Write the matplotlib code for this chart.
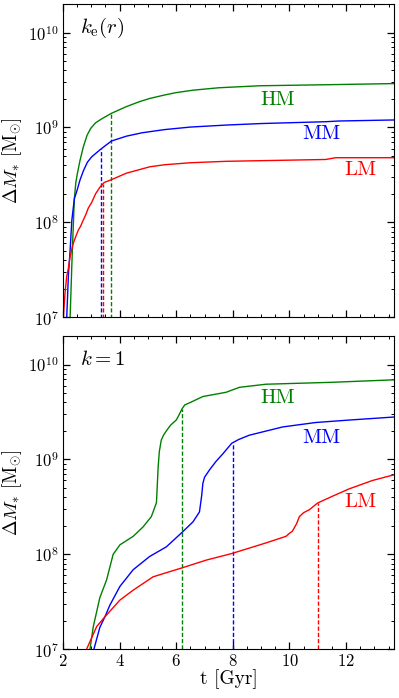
import numpy as np
import matplotlib
matplotlib.use("Agg")
import matplotlib.pyplot as plt

plt.rcParams['font.family'] = 'serif'
plt.rcParams['font.serif'] = ['cmr10']
plt.rcParams['mathtext.fontset'] = 'cm'
plt.rcParams['axes.formatter.use_mathtext'] = True
plt.rcParams['axes.unicode_minus'] = False

# ---- panel 1 : k_e(r) ----
t_hm1 = [2.22, 2.25, 2.31, 2.33, 2.36, 2.40, 2.45, 2.50, 2.60, 2.72, 2.85, 2.98, 3.15, 3.36, 3.71, 4.24,
         4.70, 5.06, 5.59, 6.00, 6.59, 7.50, 8.94, 11.28, 13.7]
m_hm1 = [6e6, 1.0e7, 3.5e7, 5.2e7, 8.9e7, 1.78e8, 2.6e8, 3.2e8, 4.5e8, 6.3e8, 8.3e8, 9.8e8, 1.12e9, 1.23e9,
         1.41e9, 1.66e9, 1.87e9, 2.02e9, 2.2e9, 2.33e9, 2.47e9, 2.62e9, 2.75e9, 2.82e9, 2.9e9]
t_mm1 = [2.11, 2.13, 2.19, 2.25, 2.31, 2.40, 2.48, 2.60, 2.72, 2.86, 3.01, 3.33, 3.71, 4.24, 4.80, 5.59,
         6.50, 7.76, 9.00, 11.28, 11.75, 13.7]
m_mm1 = [6e6, 1.0e7, 2.8e7, 5.1e7, 1.05e8, 1.78e8, 2.1e8, 2.8e8, 3.5e8, 4.3e8, 4.9e8, 5.9e8, 7.2e8, 8.1e8,
         8.8e8, 9.5e8, 1.01e9, 1.06e9, 1.1e9, 1.15e9, 1.17e9, 1.2e9]
t_lm1 = [2.0, 2.01, 2.07, 2.13, 2.19, 2.25, 2.36, 2.45, 2.54, 2.62, 2.71, 2.80, 2.89, 3.01, 3.15, 3.30, 3.45,
         3.71, 4.24, 5.06, 5.59, 6.50, 7.76, 11.28, 11.63, 13.7]
m_lm1 = [9e6, 1.0e7, 1.8e7, 2.7e7, 3.3e7, 4.4e7, 6.0e7, 7.1e7, 8.3e7, 9.1e7, 1.05e8, 1.2e8, 1.41e8, 1.62e8,
         2.0e8, 2.34e8, 2.63e8, 2.82e8, 3.3e8, 3.85e8, 4.05e8, 4.25e8, 4.4e8, 4.6e8, 4.8e8, 4.8e8]
tmark1 = {'HM': 3.71, 'MM': 3.33, 'LM': 3.40}

# ---- panel 2 : k = 1 ----
t_hm2 = [2.9, 2.95, 3.07, 3.30, 3.54, 3.77, 4.01, 4.48, 4.83, 5.12, 5.30, 5.36, 5.40, 5.47, 5.55, 5.65, 5.80,
         6.00, 6.10, 6.20, 6.30, 6.47, 6.94, 7.76, 8.23, 9.17, 11.52, 13.7]
m_hm2 = [7e6, 1.0e7, 1.74e7, 3.5e7, 5.4e7, 1.0e8, 1.26e8, 1.55e8, 1.95e8, 2.5e8, 3.5e8, 8.3e8, 1.2e9, 1.6e9,
         1.8e9, 2.0e9, 2.3e9, 2.6e9, 2.95e9, 3.4e9, 3.75e9, 3.95e9, 4.6e9, 5.1e9, 5.75e9, 6.2e9, 6.5e9, 6.9e9]
t_mm2 = [3.0, 3.09, 3.30, 3.48, 3.65, 4.01, 4.48, 5.06, 5.65, 6.20, 6.59, 6.82, 6.90, 6.94, 7.00, 7.18, 7.40,
         7.65, 7.96, 8.20, 8.58, 9.76, 10.93, 12.11, 13.7]
m_mm2 = [5e6, 1.0e7, 1.7e7, 2.2e7, 2.9e7, 4.6e7, 6.9e7, 9.5e7, 1.2e8, 1.7e8, 2.2e8, 2.8e8, 4.2e8, 5.6e8,
         6.5e8, 7.8e8, 9.5e8, 1.15e9, 1.48e9, 1.62e9, 1.8e9, 2.2e9, 2.45e9, 2.6e9, 2.8e9]
t_lm2 = [2.75, 2.83, 3.19, 3.48, 4.01, 4.48, 5.18, 6.20, 7.06, 7.96, 9.17, 9.88, 9.99, 10.10, 10.25, 10.35,
         10.50, 10.70, 10.99, 11.52, 12.11, 12.93, 13.7]
m_lm2 = [8e6, 1.0e7, 1.74e7, 2.2e7, 3.3e7, 4.2e7, 5.8e7, 7.2e7, 8.7e7, 1.02e8, 1.32e8, 1.55e8, 1.66e8,
         1.75e8, 2.1e8, 2.5e8, 2.75e8, 2.95e8, 3.47e8, 4.1e8, 4.9e8, 6.0e8, 6.9e8]
tmark2 = {'HM': 6.2, 'MM': 8.0, 'LM': 11.0}

colors = {'HM': 'g', 'MM': 'b', 'LM': 'r'}
lab_pos1 = {'HM': (9.58, 1.95e9), 'MM': (11.11, 8.5e8), 'LM': (12.52, 3.55e8)}
lab_pos2 = {'HM': (9.58, 4.45e9), 'MM': (11.11, 1.7e9), 'LM': (12.52, 3.55e8)}

fig = plt.figure(figsize=(3.99, 6.98), dpi=100)
ax1 = fig.add_axes([0.158, 0.5454, 0.830, 0.4489])
ax2 = fig.add_axes([0.158, 0.0698, 0.830, 0.4489])

panels = [
    (ax1, {'HM': (t_hm1, m_hm1), 'MM': (t_mm1, m_mm1), 'LM': (t_lm1, m_lm1)}, tmark1, lab_pos1, r'$k_{\rm e}(r)$'),
    (ax2, {'HM': (t_hm2, m_hm2), 'MM': (t_mm2, m_mm2), 'LM': (t_lm2, m_lm2)}, tmark2, lab_pos2, r'$k=1$'),
]

for ax, curves, tmark, labpos, title in panels:
    for name in ['HM', 'MM', 'LM']:
        t, m = curves[name]
        c = colors[name]
        ax.plot(t, m, color=c, lw=1.0)
        tm = tmark[name]
        mtop = 10 ** np.interp(tm, t, np.log10(m))
        ax.plot([tm, tm], [1e6, mtop], color=c, lw=1.0, ls=(0, (3, 1.5)))
        ax.text(labpos[name][0], labpos[name][1], name, color=c, fontsize=15,
                ha='center', va='center')
    ax.set_yscale('log')
    ax.set_xlim(2, 13.7)
    ax.set_ylim(1e7, 2e10)
    ax.set_xticks([2, 4, 6, 8, 10, 12])
    ax.set_xticks(np.arange(2, 13.7, 0.5), minor=True)
    ax.tick_params(which='both', direction='in', top=True, right=True, labelsize=12, pad=3)
    ax.tick_params(which='major', length=5, width=0.9)
    ax.tick_params(which='minor', length=2.5, width=0.7)
    ax.set_ylabel(r'$\Delta M_{*}\ [\mathrm{M}_{\odot}]$', fontsize=13.5)
    ax.yaxis.set_label_coords(-0.118, 0.5)
    ax.text(0.05, 0.925, title, transform=ax.transAxes, fontsize=15,
            ha='left', va='center')

ax1.tick_params(labelbottom=False)
ax2.set_xlabel('t [Gyr]', fontsize=14, labelpad=0)

fig.savefig('out.png', dpi=100)
